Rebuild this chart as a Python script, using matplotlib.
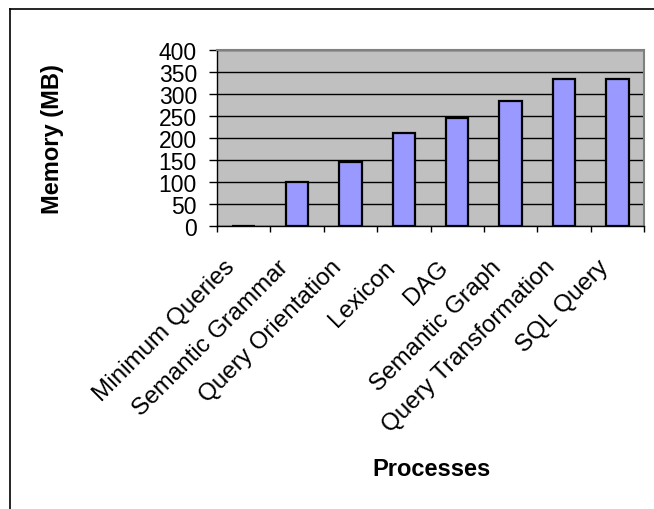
import matplotlib
matplotlib.use("Agg")
import matplotlib.pyplot as plt
from matplotlib.lines import Line2D
from matplotlib.transforms import ScaledTranslation
import numpy as np

categories = ["Minimum Queries", "Semantic Grammar", "Query Orientation", "Lexicon",
              "DAG", "Semantic Graph", "Query Transformation", "SQL Query"]
memory_mb = [0, 100, 145, 212, 245, 285, 335, 335]
y_ticks = [0, 50, 100, 150, 200, 250, 300, 350, 400]

plt.rcParams["font.family"] = ["Liberation Sans", "DejaVu Sans"]

fig = plt.figure(figsize=(6.54, 5.10), dpi=100)
ax = fig.add_axes([217 / 654, 1 - 227 / 510, (644 - 217) / 654, (227 - 51) / 510])

x = np.arange(len(categories))
ax.set_facecolor("#C0C0C0")
ax.bar(x, memory_mb, width=0.42, color="#9999FF", edgecolor="black", linewidth=1.6, zorder=3)

ax.set_xlim(-0.5, len(categories) - 0.5)
ax.set_ylim(0, 400)
ax.set_yticks(y_ticks)
ax.yaxis.grid(True, color="black", linewidth=1.0, zorder=1)
ax.set_axisbelow(True)

ax.tick_params(axis="y", direction="out", length=5.5, width=1.0, pad=9, labelsize=16.5)
ax.set_xticks(x)
ax.set_xticklabels(categories, rotation=45, ha="right", va="top", rotation_mode="anchor", fontsize=17.5)
ax.tick_params(axis="x", which="major", length=0, pad=14)
ax.set_xticks(np.arange(-0.5, len(categories)), minor=True)
ax.tick_params(axis="x", which="minor", direction="out", length=4, width=1.0)

# nudge the slanted category labels left and down
shift = ScaledTranslation(-20 / 100, -10 / 100, fig.dpi_scale_trans)
for lab in ax.get_xticklabels():
    lab.set_transform(lab.get_transform() + shift)

for side in ("top", "right"):
    ax.spines[side].set_color("#808080")
    ax.spines[side].set_linewidth(1.5)
for side in ("left", "bottom"):
    ax.spines[side].set_color("black")
    ax.spines[side].set_linewidth(1.0)

fig.text(53 / 654, 1 - 139 / 510, "Memory (MB)", fontsize=17, fontweight="bold",
         rotation=90, ha="center", va="center")
fig.text(431 / 654, 1 - 470 / 510, "Processes", fontsize=17, fontweight="bold",
         ha="center", va="center")

# chart-area frame (top and left edges)
fig.add_artist(Line2D([9.5 / 654, 1.0], [1 - 9.5 / 510] * 2, transform=fig.transFigure,
                      color="black", linewidth=1.2))
fig.add_artist(Line2D([9.5 / 654] * 2, [0.0, 1 - 9.5 / 510], transform=fig.transFigure,
                      color="black", linewidth=1.2))

fig.savefig("out.png", dpi=100, facecolor="white")
